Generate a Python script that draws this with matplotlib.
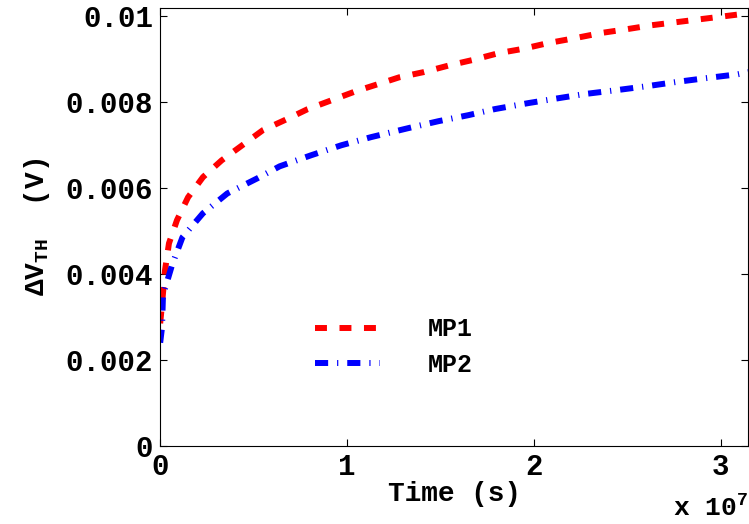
import numpy as np
import matplotlib
matplotlib.use("Agg")
import matplotlib.pyplot as plt

plt.rcParams["font.family"] = ["Liberation Mono", "DejaVu Sans"]
plt.rcParams["font.weight"] = "bold"
plt.rcParams["mathtext.fontset"] = "custom"
plt.rcParams["mathtext.rm"] = "Liberation Mono:bold"
plt.rcParams["mathtext.it"] = "Liberation Mono:bold"
plt.rcParams["mathtext.bf"] = "Liberation Mono:bold"

# time in units of 1e7 s, threshold voltage shift in V
t_mp1 = [0.001, 0.011, 0.027, 0.048, 0.091, 0.15, 0.23, 0.33, 0.55, 0.68, 0.79, 0.92,
         1.05, 1.18, 1.28, 1.41, 1.55, 1.67, 1.81, 1.94, 2.07, 2.22, 2.36, 2.50,
         2.63, 2.76, 3.15]
dv_mp1 = [0.00285, 0.0033, 0.00409, 0.00471, 0.00525, 0.00578, 0.00625, 0.00664, 0.00734,
          0.0076, 0.00783, 0.00804, 0.00825, 0.00843, 0.00857, 0.00869, 0.00885,
          0.00897, 0.00913, 0.00923, 0.00936, 0.00948, 0.0096, 0.00969, 0.00978,
          0.00985, 0.01006]

t_mp2 = [0.001, 0.011, 0.016, 0.064, 0.12, 0.23, 0.36, 0.52, 0.64, 0.81, 0.97, 1.13,
         1.33, 1.49, 1.65, 1.79, 1.97, 2.14, 2.27, 2.44, 2.60, 2.76, 2.92, 3.09, 3.15]
dv_mp2 = [0.0024, 0.00276, 0.0035, 0.0042, 0.00485, 0.00541, 0.00587, 0.00622, 0.0065,
          0.00676, 0.00699, 0.00718, 0.00739, 0.00755, 0.00769, 0.00783, 0.00797,
          0.00809, 0.00818, 0.00827, 0.00836, 0.00846, 0.00855, 0.00864, 0.00869]

xticks = [0, 1, 2, 3]
yticks = [0, 0.002, 0.004, 0.006, 0.008, 0.01]
ytick_labels = ["0", "0.002", "0.004", "0.006", "0.008", "0.01"]

fig = plt.figure(figsize=(7.49, 5.24), dpi=100)
ax = fig.add_axes([0.2136, 0.1489, 0.7851, 0.8358])

ax.plot(t_mp1, dv_mp1, color="red", lw=4.3, linestyle=(0, (2.0, 2.1)), label="MP1")
ax.plot(t_mp2, dv_mp2, color="blue", lw=4.3, linestyle=(0, (2.2, 1.5, 0.2, 1.5)), label="MP2")

ax.set_xlim(0, 3.145)
ax.set_ylim(0, 0.01018)
ax.set_xticks(xticks)
ax.set_xticklabels([str(v) for v in xticks])
ax.set_yticks(yticks)
ax.set_yticklabels(ytick_labels)
ax.tick_params(direction="in", top=True, right=True, length=5, labelsize=21, pad=5)

ax.set_xlabel("Time (s)", fontsize=20, fontweight="bold", labelpad=0)
ax.set_ylabel(r"$\Delta$V$_{\rm TH}$  (V)", fontsize=20, fontweight="bold", labelpad=10)
ax.text(1.0, -0.172, r"x 10$^{7}$", transform=ax.transAxes, ha="right", va="bottom", fontsize=19)

ax.legend(loc="upper left", bbox_to_anchor=(0.225, 0.345), frameon=False, fontsize=18,
          handlelength=2.6, handletextpad=1.9, labelspacing=0.45)

fig.savefig("out.png", dpi=100)
